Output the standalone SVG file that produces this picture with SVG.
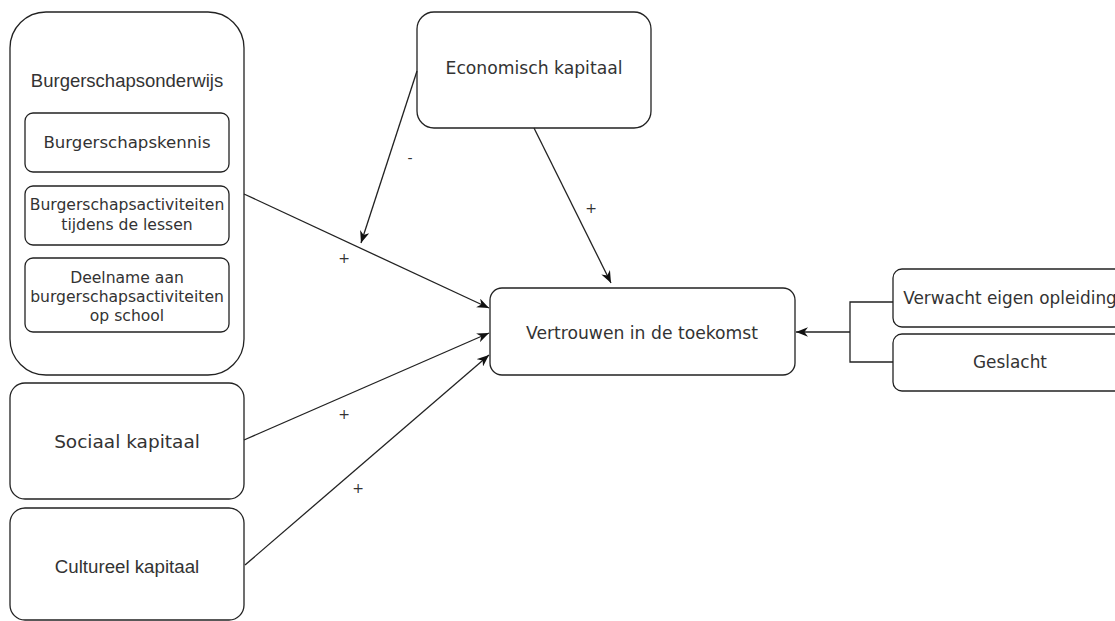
<svg xmlns="http://www.w3.org/2000/svg" width="1115" height="621" viewBox="0 0 1115 621">
<style>
.box{fill:#fff;stroke:#222;stroke-width:1.3}
.v{font-family:"DejaVu Sans",Verdana,sans-serif;fill:#333;text-anchor:middle}
.a{font-family:"Liberation Sans",Arial,sans-serif;fill:#333;text-anchor:middle}
.edge{fill:none;stroke:#222;stroke-width:1.3}
.lbl{font-family:"DejaVu Sans",Verdana,sans-serif;font-size:14px;fill:#333;text-anchor:middle}
</style>
<defs>
<marker id="arr" viewBox="0 0 10 8" refX="10" refY="4" markerWidth="12" markerHeight="10" markerUnits="userSpaceOnUse" orient="auto">
<path d="M0,0 L10,4 L0,8 L3,4 z" fill="#111"/>
</marker>
</defs>
<rect width="1115" height="621" fill="#fff"/>

<g id="burgerschapsonderwijs">
<rect class="box" x="10" y="12" width="234" height="363" rx="36"/>
<text class="a" x="127" y="87" font-size="18.5">Burgerschapsonderwijs</text>
</g>
<g id="burgerschapskennis">
<rect class="box" x="25" y="113" width="204" height="59" rx="8"/>
<text class="v" x="127" y="148" font-size="16.6">Burgerschapskennis</text>
</g>
<g id="activiteiten-lessen">
<rect class="box" x="25" y="186" width="204" height="59" rx="8"/>
<text class="v" x="127" y="210" font-size="15.6">Burgerschapsactiviteiten</text>
<text class="v" x="127" y="230" font-size="15.6">tijdens de lessen</text>
</g>
<g id="deelname">
<rect class="box" x="25" y="258" width="204" height="74" rx="8"/>
<text class="v" x="127" y="283" font-size="15.6">Deelname aan</text>
<text class="v" x="127" y="302" font-size="15.6">burgerschapsactiviteiten</text>
<text class="v" x="127" y="321" font-size="15.6">op school</text>
</g>
<g id="sociaal">
<rect class="box" x="10" y="383" width="234" height="116" rx="15"/>
<text class="v" x="127" y="448" font-size="18.5">Sociaal kapitaal</text>
</g>
<g id="cultureel">
<rect class="box" x="10" y="508" width="234" height="112" rx="15"/>
<text class="a" x="127" y="573" font-size="18.7">Cultureel kapitaal</text>
</g>
<g id="economisch">
<rect class="box" x="417" y="12" width="234" height="116" rx="17"/>
<text class="v" x="534" y="74" font-size="17.2">Economisch kapitaal</text>
</g>
<g id="vertrouwen">
<rect class="box" x="490" y="288" width="305" height="87" rx="12"/>
<text class="v" x="642" y="339" font-size="17.2">Vertrouwen in de toekomst</text>
</g>
<g id="verwacht">
<rect class="box" x="893" y="269" width="234" height="58" rx="9"/>
<text class="v" x="1010" y="304" font-size="16.9">Verwacht eigen opleiding</text>
</g>
<g id="geslacht">
<rect class="box" x="893" y="334" width="234" height="57" rx="9"/>
<text class="v" x="1010" y="368" font-size="16.9">Geslacht</text>
</g>

<g id="connectors">
<line class="edge" x1="244" y1="194" x2="489" y2="308" marker-end="url(#arr)"/>
<line class="edge" x1="244" y1="440" x2="489" y2="333" marker-end="url(#arr)"/>
<line class="edge" x1="245" y1="565" x2="489" y2="355" marker-end="url(#arr)"/>
<line class="edge" x1="534" y1="128" x2="611" y2="283" marker-end="url(#arr)"/>
<line class="edge" x1="417" y1="71" x2="361" y2="243" marker-end="url(#arr)"/>
<polyline class="edge" points="893,302 850,302 850,362 893,362"/>
<line class="edge" x1="850" y1="332" x2="796" y2="332" marker-end="url(#arr)"/>
<text class="lbl" x="344" y="263">+</text>
<text class="lbl" x="344" y="419">+</text>
<text class="lbl" x="358" y="493">+</text>
<text class="lbl" x="591" y="213">+</text>
<text class="lbl" x="410" y="163">-</text>
</g>
</svg>
